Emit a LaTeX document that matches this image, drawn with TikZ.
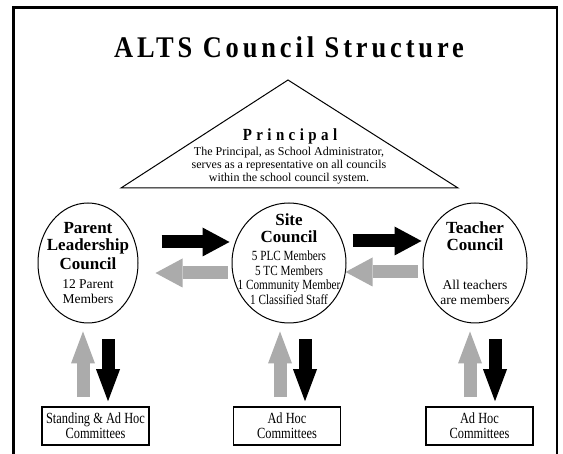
\documentclass[tikz,border=0pt]{standalone}
\usepackage{fontspec}
\setmainfont{Liberation Serif}
\newfontfamily\titlefont[LetterSpace=13, FakeStretch=0.88]{Liberation Serif}
\newfontfamily\headfont[LetterSpace=26, FakeStretch=0.88]{Liberation Serif}
\newfontfamily\narrowfont[FakeStretch=0.8]{Liberation Serif}
\usetikzlibrary{arrows.meta, positioning, shapes.geometric}

\definecolor{backgray}{gray}{0.67}
\newcommand\hd{\normalfont\bfseries\fontsize{17}{17.5}\selectfont}

\begin{document}
\begin{tikzpicture}[x=1pt,y=-1pt,
    council/.style={draw, ellipse, line width=1pt, minimum width=100pt,
      minimum height=120pt, inner sep=0pt},
    inside/.style={align=center, inner sep=0pt, font=\fontsize{13.5}{15}\selectfont},
    committee/.style={draw, line width=1.5pt, minimum width=107pt,
      minimum height=38pt, align=center,
      font=\narrowfont\fontsize{15.5}{15}\selectfont},
    across/.style={line width=13pt,
      -{Triangle[length=27pt, width=29pt, line width=0pt]}},
    updown/.style={line width=13pt,
      -{Triangle[length=32pt, width=24pt, line width=0pt]}}]

  \useasboundingbox (0,0) rectangle (563,454);

  % frame, open at the bottom
  \draw[line width=3pt] (13,454) -- (13,7.5) -- (558,7.5);
  \draw[line width=1.5pt] (557,7.5) -- (557,454);

  \node (title) at (289,47)
    {\titlefont\bfseries\fontsize{30}{32}\selectfont ALTS Council Structure};

  % principal
  \draw[line width=1pt] (121,188) coordinate (tl) -- (288,80) coordinate (apex)
    -- (458,188) coordinate (tr) -- cycle;
  \node (principal) at (290,136)
    {\headfont\bfseries\fontsize{17}{18}\selectfont Principal};
  \node (role) at (289,166) [align=center, font=\fontsize{12}{13}\selectfont]
    {The Principal, as School Administrator,\\
     serves as a representative on all councils\\
     within the school council system.};

  % councils
  \node[council] (parent) at (88,263) {};
  \node[inside] (parenttext) at (88,263)
    {\hd Parent\\[2.5pt]\hd Leadership\\[2.5pt]\hd Council\\[4pt] 12 Parent\\Members};
  \node[council, minimum width=114pt] (site) at (289,263) {};
  \node[inside, font=\narrowfont\fontsize{14}{14.5}\selectfont] (sitetext) at (289,259)
    {\hd Site\\[2.5pt]\hd Council\\[4pt] 5 PLC Members\\5 TC Members\\
     1 Community Member\\1 Classified Staff};
  \node[council, minimum width=104pt] (teacher) at (475,263) {};
  \node[inside] (teachertext) at (475,263)
    {\hd Teacher\\[2.5pt]\hd Council\\[24pt] All teachers\\are members};

  % committees
  \node[committee] (pbox) at (95.5,426) {Standing \& Ad Hoc\\Committees};
  \node[committee] (sbox) at (287,426) {Ad Hoc\\Committees};
  \node[committee] (tbox) at (479.5,426) {Ad Hoc\\Committees};

  % arrows between councils
  \draw[across] ([xshift=23pt,yshift=21pt]parent.east) -- ([xshift=-2pt,yshift=21pt]site.west);
  \draw[across, backgray] ([xshift=-4pt,yshift=-10pt]site.west) -- ([xshift=17pt,yshift=-10pt]parent.east);
  \draw[across] ([xshift=6pt,yshift=22pt]site.east) -- ([xshift=-1pt,yshift=22pt]teacher.west);
  \draw[across, backgray] ([xshift=-5pt,yshift=-9pt]teacher.west) -- ([xshift=-1pt,yshift=-9pt]site.east);

  % arrows to and from committees
  \draw[updown, backgray] ([xshift=-12.5pt,yshift=9pt]pbox.north) -- ([xshift=-5pt,yshift=-8pt]parent.south);
  \draw[updown] ([xshift=20pt,yshift=-16pt]parent.south) -- ([xshift=12.5pt,yshift=5pt]pbox.north);
  \draw[updown, backgray] ([xshift=-7pt,yshift=9pt]sbox.north) -- ([xshift=-9pt,yshift=-8pt]site.south);
  \draw[updown] ([xshift=16pt,yshift=-16pt]site.south) -- ([xshift=18pt,yshift=5pt]sbox.north);
  \draw[updown, backgray] ([xshift=-9.5pt,yshift=9pt]tbox.north) -- ([xshift=-5pt,yshift=-8pt]teacher.south);
  \draw[updown] ([xshift=20pt,yshift=-16pt]teacher.south) -- ([xshift=15.5pt,yshift=5pt]tbox.north);
\end{tikzpicture}
\end{document}
